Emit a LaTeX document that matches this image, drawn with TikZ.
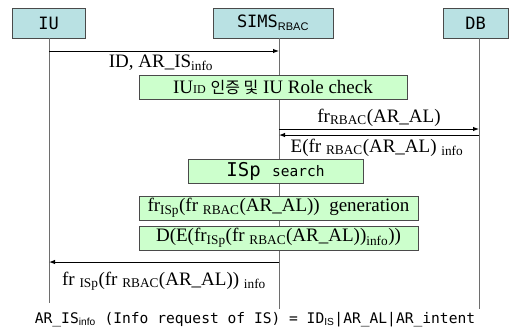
\documentclass[tikz,border=0pt]{standalone}
\usepackage{fontspec}
\setmainfont{Liberation Serif}
\setsansfont{Liberation Sans}
\setmonofont{DejaVu Sans Mono}
\newfontfamily\krfont{Noto Sans CJK KR}
\usetikzlibrary{arrows.meta}

% text sizes
\newcommand\lblsize{\fontsize{19}{22}\selectfont}
\newcommand\hdsize{\fontsize{17}{20}\selectfont}
\newcommand\lo[1]{\textsubscript{#1}}

\definecolor{hdfill}{HTML}{B9E1E3}
\definecolor{stepfill}{HTML}{CCFFCC}
\definecolor{edge}{HTML}{4A4A4A}

\tikzset{
  header/.style={draw=edge, line width=1pt, fill=hdfill, minimum height=30pt,
    inner sep=0pt, font=\ttfamily\hdsize},
  stepbox/.style={draw=edge, line width=1pt, fill=stepfill, minimum height=24pt,
    inner sep=0pt, font=\lblsize},
  life/.style={draw=edge!80, line width=1pt},
  msg/.style={draw=black, line width=1pt, -{Latex[length=6pt,width=4.5pt]}},
  lbl/.style={inner sep=0pt, anchor=base, font=\lblsize},
}

\begin{document}
\begin{tikzpicture}[x=1pt, y=-1pt]
  \useasboundingbox (0,0) rectangle (521,333);

  % participants
  \node[header, minimum width=73pt]  (iu)   at (48.5,23)  {IU};
  \node[header, minimum width=120pt] (sims) at (273,23)
    {SIMS\lo{\sffamily\fontsize{11}{12}\selectfont RBAC}};
  \node[header, minimum width=65pt]  (db)   at (475.5,23) {DB};

  % lifeline ends
  \coordinate (iuTop)   at (49,38);
  \coordinate (iuEnd)   at (49,303);
  \coordinate (simsTop) at (279,38);
  \coordinate (simsEnd) at (279,309);
  \coordinate (dbTop)   at (479,38);
  \coordinate (dbEnd)   at (479,309);
  \draw[life] (iuTop) -- (iuEnd);
  \draw[life] (simsTop) -- (simsEnd);
  \draw[life] (dbTop) -- (dbEnd);

  % message end points on the lifelines
  \coordinate (m1a) at (49,51);   \coordinate (m1b) at (279,51);
  \coordinate (m2a) at (279,129); \coordinate (m2b) at (479,129);
  \coordinate (m3a) at (479,135); \coordinate (m3b) at (279,135);
  \coordinate (m4a) at (279,262); \coordinate (m4b) at (49,262);

  \draw[msg] (m1a) -- (m1b);
  \draw[msg] (m2a) -- (m2b);
  \draw[msg] (m3a) -- (m3b);
  \draw[msg] (m4a) -- (m4b);

  % message labels
  \node[lbl] (l1) at (161,67)  {ID, AR\_IS\lo{info}};
  \node[lbl] (l2) at (379,122) {fr\lo{RBAC}(AR\_AL)};
  \node[lbl] (l3) at (377,152) {E(fr \lo{RBAC}(AR\_AL) \lo{info}};
  \node[lbl] (l4) at (164,285) {fr \lo{ISp}(fr \lo{RBAC}(AR\_AL)) \lo{info}};

  % processing steps on the server
  \node[stepbox, minimum width=268pt] (s1) at (273,87.5)
    {IU{\fontsize{12}{13}\selectfont ID} {\krfont\fontsize{16}{18}\selectfont 인증 및} IU Role check};
  \node[stepbox, minimum width=175pt] (s2) at (275.5,171)
    {\ttfamily{\fontsize{19}{22}\selectfont ISp} {\fontsize{14.5}{17}\selectfont search}};
  \node[stepbox, minimum width=279pt] (s3) at (278.5,208)
    {fr\lo{ISp}(fr \lo{RBAC}(AR\_AL))\ \ generation};
  \node[stepbox, minimum width=279pt] (s4) at (278.5,238)
    {D(E(fr\lo{ISp}(fr \lo{RBAC}(AR\_AL))\lo{info}))};

  % footnote
  \node[inner sep=0pt, anchor=base, font=\ttfamily\fontsize{14.6}{17}\selectfont] (note) at (255,323)
    {AR\_IS\lo{\sffamily info} (Info request of IS) = ID\lo{\sffamily IS}|AR\_AL|AR\_intent};
\end{tikzpicture}
\end{document}
